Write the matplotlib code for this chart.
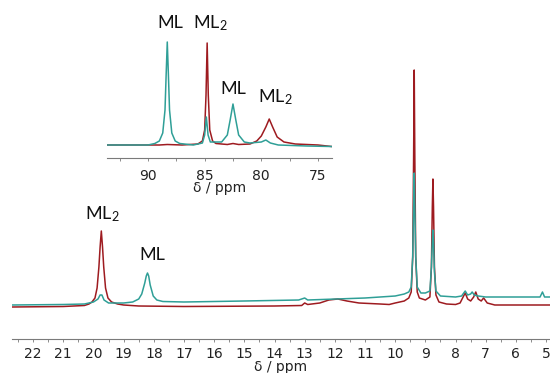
import numpy as np
import matplotlib
matplotlib.use("Agg")
import matplotlib.pyplot as plt
from matplotlib.ticker import MultipleLocator

# ---------------------------------------------------------------------------
# Data (ppm, intensity in arbitrary units)
# ---------------------------------------------------------------------------
# main 1H spectrum, red trace
red_ppm = [22.70, 21.0, 20.3, 20.15, 20.05, 19.95, 19.88, 19.82, 19.78, 19.74,
           19.70, 19.66, 19.60, 19.52, 19.40, 19.2, 19.0, 18.5, 17.0, 14.0,
           13.1, 13.0, 12.9, 12.5, 12.2, 11.9, 11.6, 11.2, 10.5, 10.2, 10.0,
           9.7, 9.55, 9.47, 9.42, 9.39, 9.37, 9.35, 9.32, 9.27, 9.2, 9.0, 8.85,
           8.80, 8.77, 8.75, 8.73, 8.70, 8.65, 8.55, 8.3, 8.0, 7.85, 7.75,
           7.68, 7.6, 7.5, 7.4, 7.33, 7.25, 7.15, 7.07, 6.95, 6.7, 4.87]
red_int = [0, 0.5, 1.5, 3, 5, 9, 19, 40, 60, 76,
           60, 40, 19, 9, 5, 3, 2, 1, 0.5, 1,
           1.5, 4, 2.5, 4, 7, 8, 6, 4, 3, 2.5, 4,
           6, 9, 15, 50, 150, 237, 150, 50, 15, 9, 7, 10,
           40, 100, 128, 100, 40, 12, 5, 3, 2.5, 4, 10,
           14, 8, 6, 10, 15, 8, 6, 9, 4, 2, 2]

# main 1H spectrum, teal trace
teal_ppm = [22.70, 21.0, 20.3, 20.0, 19.85, 19.78, 19.72, 19.65, 19.5, 19.0,
            18.7, 18.5, 18.4, 18.3, 18.25, 18.21, 18.17, 18.12, 18.02, 17.9,
            17.7, 17.0, 15.0, 13.2, 13.0, 12.9, 11.0, 10.0, 9.7, 9.55, 9.47,
            9.42, 9.39, 9.37, 9.35, 9.32, 9.27, 9.15, 9.0, 8.85, 8.80, 8.77,
            8.75, 8.73, 8.70, 8.65, 8.5, 8.0, 7.8, 7.68, 7.6, 7.5, 7.45, 7.38,
            7.25, 7.0, 6.0, 5.2, 5.12, 5.05, 4.87]
teal_int = [2, 2.5, 3, 5, 8, 12, 12, 7, 4, 4,
            5, 8, 13, 24, 31, 34, 31, 22, 11, 7,
            5.5, 5, 6, 7, 9, 7, 9, 11, 13, 15, 20,
            50, 100, 134, 100, 50, 20, 14, 14, 16, 40, 65,
            77, 65, 35, 16, 11, 10, 11, 16, 12, 13, 15, 12,
            11, 10, 10, 10, 15, 10, 10]

# inset 31P spectrum
inset_red_ppm = [93.6, 90.0, 89.0, 88.3, 87.0, 85.6, 85.2, 85.0, 84.88, 84.78,
                 84.68, 84.55, 84.3, 84.0, 83.0, 82.5, 82.0, 81.0, 80.4, 80.0,
                 79.6, 79.3, 79.0, 78.6, 78.0, 77.0, 75.0, 73.8]
inset_red_int = [0, 0, 0, 0.5, 0, 1, 4, 15, 50, 102,
                 50, 15, 4, 1.5, 0.5, 1.5, 0.5, 1, 4, 9,
                 18, 26, 18, 8, 3, 1, 0, -1.5]

inset_teal_ppm = [93.6, 90.0, 89.4, 89.0, 88.7, 88.5, 88.4, 88.3, 88.2, 88.1,
                  87.9, 87.6, 87.2, 86.0, 85.2, 85.0, 84.85, 84.7, 84.5, 83.5,
                  83.0, 82.75, 82.5, 82.25, 82.0, 81.5, 81.0, 80.0, 79.6, 79.2,
                  78.5, 76.0, 73.8]
inset_teal_int = [0, 0, 1.5, 4, 12, 35, 70, 103, 70, 35,
                  12, 4, 1.5, 0, 2, 10, 28, 10, 3, 3,
                  10, 25, 41, 25, 10, 3, 2, 3, 5, 2,
                  0, -1, -1.5]

RED = "#9e1b20"
TEAL = "#2f9f97"

plt.rcParams['mathtext.default'] = 'regular'

fig = plt.figure(figsize=(5.5, 3.73), dpi=100)

# ---------------------------------------------------------------------------
# Main spectrum
# ---------------------------------------------------------------------------
ax = fig.add_axes([12 / 550, 34 / 373, 538 / 550, 279 / 373])
ax.plot(red_ppm, red_int, color=RED, lw=1.1)
ax.plot(teal_ppm, teal_int, color=TEAL, lw=1.1)
ax.set_xlim(22.70, 4.87)
ax.set_ylim(-32, 247)
for s in ['top', 'left', 'right']:
    ax.spines[s].set_visible(False)
ax.spines['bottom'].set_color('#7a7a7a')
ax.spines['bottom'].set_linewidth(0.8)
ax.set_yticks([])
ax.xaxis.set_major_locator(MultipleLocator(1))
ax.xaxis.set_minor_locator(MultipleLocator(0.5))
ax.tick_params(axis='x', which='both', length=2.5, width=0.6, color='#7a7a7a',
               labelsize=10, labelcolor='#222222', pad=3.5)
ax.set_xlabel("δ / ppm", fontsize=10, color='#222222', labelpad=-1.3)
ax.patch.set_alpha(0)

lab = dict(fontsize=13, family='Lato', ha='center', va='baseline', color='#111111')
ax.text(19.71, 88, "ML$_2$", **lab)
ax.text(18.05, 47, "ML", **lab)

# ---------------------------------------------------------------------------
# Inset
# ---------------------------------------------------------------------------
ins = fig.add_axes([107 / 550, (373 - 158) / 373, 225 / 550, 128 / 373])
ins.plot(inset_red_ppm, inset_red_int, color=RED, lw=1.1)
ins.plot(inset_teal_ppm, inset_teal_int, color=TEAL, lw=1.1)
ins.set_xlim(93.62, 73.76)
ins.set_ylim(-13, 115)
for s in ['top', 'left', 'right']:
    ins.spines[s].set_visible(False)
ins.spines['bottom'].set_color('#7a7a7a')
ins.spines['bottom'].set_linewidth(0.8)
ins.set_yticks([])
ins.xaxis.set_major_locator(MultipleLocator(5))
ins.xaxis.set_minor_locator(MultipleLocator(2.5))
ins.tick_params(axis='x', which='both', length=2.5, width=0.6, color='#7a7a7a',
                labelsize=10, labelcolor='#222222', pad=5.5)
ins.set_xlabel("δ / ppm", fontsize=10, color='#222222', labelpad=-1.3)
ins.patch.set_alpha(0)

ins.text(88.06, 117, "ML", clip_on=False, **lab)
ins.text(84.5, 117, "ML$_2$", clip_on=False, **lab)
ins.text(82.5, 51, "ML", **lab)
ins.text(78.8, 43, "ML$_2$", **lab)

fig.savefig("out.png", dpi=100)
